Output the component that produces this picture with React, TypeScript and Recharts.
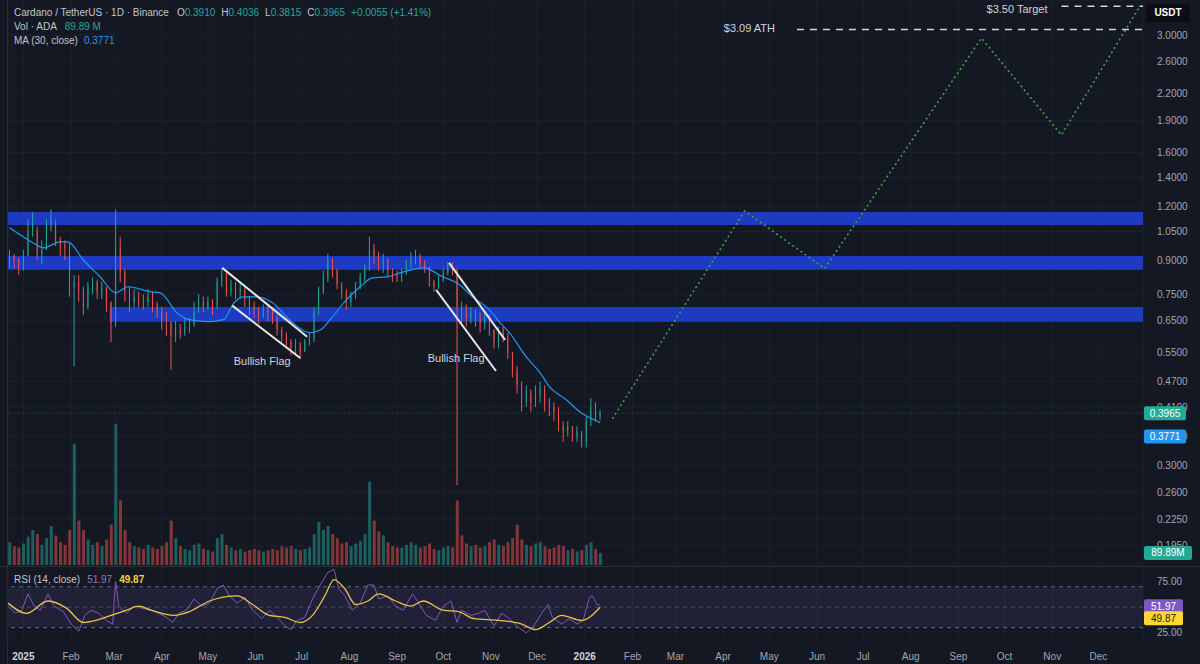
import React from 'react';
import {
  ComposedChart,
  Bar,
  Line,
  XAxis,
  YAxis,
  CartesianGrid,
  ReferenceArea,
  ReferenceLine,
  ReferenceDot,
  Cell,
} from 'recharts';

// ---- data (3-day candles, t = days since 1 Jan 2025) ----
const FIRST_DAY = -9;
const STEP = 3;
const FIRST_OPEN = 0.88;

const closes = [
  0.92, 0.9, 0.86, 0.92, 1.05, 1.08, 0.93, 0.95, 1.08, 1.12, 1.0, 0.97, 0.96, 0.78, 0.8, 0.76, 0.7, 0.78, 0.8, 0.76,
  0.78, 0.72, 0.64, 0.95, 0.84, 0.76, 0.72, 0.74, 0.73, 0.72, 0.74, 0.71, 0.68, 0.65, 0.64, 0.6, 0.62, 0.61, 0.63, 0.64,
  0.68, 0.72, 0.7, 0.72, 0.69, 0.8, 0.83, 0.76, 0.78, 0.76, 0.77, 0.73, 0.7, 0.69, 0.67, 0.69, 0.68, 0.66, 0.62, 0.6,
  0.58, 0.56, 0.57, 0.55, 0.58, 0.59, 0.68, 0.76, 0.82, 0.9, 0.85, 0.79, 0.76, 0.72, 0.74, 0.78, 0.82, 0.86, 0.95, 0.92,
  0.88, 0.9, 0.85, 0.83, 0.82, 0.84, 0.88, 0.9, 0.92, 0.89, 0.86, 0.8, 0.78, 0.81, 0.84, 0.87, 0.85, 0.7, 0.68, 0.66,
  0.68, 0.66, 0.64, 0.66, 0.62, 0.58, 0.62, 0.6, 0.55, 0.5, 0.46, 0.42, 0.44, 0.42, 0.44, 0.45, 0.42, 0.41, 0.4, 0.37,
  0.36, 0.37, 0.35, 0.36, 0.34, 0.38, 0.41, 0.391, 0.3965,
];
const highs = [
  0.95, 0.93, 0.91, 0.95, 1.12, 1.16, 1.06, 1.0, 1.12, 1.18, 1.1, 1.02, 1.0, 0.99, 0.83, 0.83, 0.78, 0.8, 0.82, 0.81,
  0.8, 0.78, 0.72, 1.18, 1.02, 0.86, 0.78, 0.77, 0.76, 0.75, 0.77, 0.76, 0.72, 0.7, 0.68, 0.65, 0.65, 0.64, 0.66, 0.66,
  0.72, 0.75, 0.74, 0.74, 0.73, 0.82, 0.86, 0.84, 0.81, 0.8, 0.8, 0.78, 0.74, 0.72, 0.7, 0.71, 0.71, 0.7, 0.67, 0.63,
  0.61, 0.59, 0.59, 0.58, 0.59, 0.61, 0.7, 0.78, 0.85, 0.93, 0.91, 0.86, 0.8, 0.77, 0.76, 0.8, 0.84, 0.88, 1.02, 0.98,
  0.94, 0.93, 0.91, 0.86, 0.85, 0.86, 0.9, 0.94, 0.95, 0.93, 0.9, 0.87, 0.81, 0.83, 0.86, 0.89, 0.89, 0.86, 0.72, 0.71,
  0.7, 0.69, 0.68, 0.68, 0.67, 0.62, 0.63, 0.63, 0.61, 0.55, 0.51, 0.47, 0.46, 0.45, 0.46, 0.47, 0.46, 0.43, 0.42, 0.41,
  0.38, 0.38, 0.37, 0.37, 0.36, 0.39, 0.43, 0.42, 0.4036,
];
const lows = [
  0.86, 0.86, 0.83, 0.85, 0.92, 1.02, 0.9, 0.88, 0.95, 1.05, 0.97, 0.92, 0.9, 0.74, 0.51, 0.72, 0.67, 0.69, 0.75, 0.73,
  0.73, 0.68, 0.58, 0.63, 0.8, 0.72, 0.68, 0.7, 0.7, 0.69, 0.7, 0.68, 0.66, 0.62, 0.6, 0.5, 0.58, 0.59, 0.6, 0.61,
  0.63, 0.68, 0.68, 0.69, 0.67, 0.7, 0.78, 0.74, 0.74, 0.73, 0.73, 0.7, 0.67, 0.66, 0.64, 0.66, 0.65, 0.64, 0.6, 0.58,
  0.56, 0.54, 0.54, 0.53, 0.55, 0.57, 0.58, 0.67, 0.75, 0.8, 0.82, 0.77, 0.73, 0.69, 0.7, 0.73, 0.77, 0.8, 0.85, 0.88,
  0.85, 0.84, 0.82, 0.8, 0.8, 0.8, 0.83, 0.86, 0.88, 0.86, 0.84, 0.78, 0.76, 0.77, 0.8, 0.83, 0.83, 0.27, 0.64, 0.63,
  0.64, 0.63, 0.61, 0.62, 0.6, 0.56, 0.56, 0.58, 0.53, 0.48, 0.44, 0.4, 0.41, 0.4, 0.41, 0.42, 0.4, 0.39, 0.38, 0.36,
  0.34, 0.35, 0.34, 0.34, 0.33, 0.33, 0.37, 0.38, 0.3815,
];
// volume, millions ADA
const volumes = [
  170, 140, 130, 160, 210, 260, 230, 150, 200, 290, 220, 170, 150, 260, 900, 330, 260, 190, 150, 170,
  140, 190, 300, 1050, 480, 260, 170, 140, 130, 120, 150, 130, 120, 140, 170, 330, 200, 140, 120, 110,
  150, 160, 120, 110, 100, 200, 230, 150, 130, 110, 120, 100, 110, 120, 110, 100, 110, 120, 110, 140,
  130, 140, 120, 110, 120, 130, 230, 320, 260, 290, 230, 200, 160, 170, 140, 160, 180, 230, 620, 330,
  250, 220, 170, 140, 130, 130, 150, 170, 150, 130, 140, 160, 120, 110, 130, 140, 130, 480, 220, 160,
  140, 150, 130, 140, 170, 190, 150, 140, 170, 200, 300, 190, 150, 140, 160, 170, 140, 120, 130, 150,
  140, 110, 120, 100, 110, 150, 170, 120, 89.89,
];

// MA (30, close)
const maDays = [-9, 6.5, 13, 24, 29, 39, 50, 60, 68, 83, 89, 100, 108, 121, 130, 137, 143, 152, 162, 173, 186, 193, 201, 210, 219, 227, 236, 245, 252, 260, 273, 282, 292, 303, 310, 316, 327, 336, 342, 353, 362, 375];
const maValues = [1.069, 0.986, 0.96, 0.992, 0.992, 0.9, 0.822, 0.755, 0.78, 0.759, 0.755, 0.678, 0.654, 0.647, 0.654, 0.716, 0.739, 0.739, 0.716, 0.654, 0.61, 0.619, 0.664, 0.727, 0.78, 0.818, 0.822, 0.84, 0.854, 0.863, 0.822, 0.796, 0.739, 0.689, 0.643, 0.61, 0.536, 0.492, 0.457, 0.426, 0.399, 0.3771];

// projected path (dotted green)
const projDays = [383, 469, 521, 623, 675, 726];
const projValues = [0.385, 1.17, 0.86, 2.95, 1.757, 3.5];

// RSI (14) and its moving average
const rsiDays = [-10, -5, -1, 3, 7, 11, 16, 20, 26, 31, 36, 40, 44, 49, 54, 58, 60, 62, 67, 72, 77, 83, 88, 93, 97, 101, 106, 111, 116, 121, 126, 130, 134, 139, 144, 149, 155, 160, 165, 170, 174, 178, 183, 188, 193, 198, 202, 205, 209, 214, 219, 224, 228, 231, 237, 242, 247, 253, 257, 262, 268, 273, 278, 282, 285, 291, 296, 300, 306, 311, 316, 322, 327, 332, 337, 341, 344, 350, 355, 360, 364, 368, 370, 373, 375];
const rsiValues = [50.9, 44, 47, 63, 51, 47, 63, 51, 45.6, 33.5, 26.5, 42, 47, 44, 37, 33.5, 75, 51, 44, 51, 49, 47, 44, 40, 35, 44, 47, 58, 51, 54, 68, 71.7, 61, 54, 59.6, 47, 38.7, 47, 40, 31.7, 28, 37, 40, 58, 71.7, 84, 87, 68, 61, 47, 54, 71.7, 71.7, 58, 61, 51, 47, 63, 54, 42, 37, 51, 56, 35, 47, 42, 44, 47, 31.7, 44, 38.7, 30, 24.8, 31.7, 44, 52.6, 40, 33.5, 38.7, 33.5, 37, 59.6, 61, 52.6, 51.97];
const rsiMaDays = [-10, 2, 16, 28, 39, 47, 57, 67, 75, 83, 98, 108, 121, 139, 149, 160, 170, 180, 188, 196, 202, 209, 216, 224, 231, 242, 252, 260, 273, 283, 293, 309, 324, 333, 342, 350, 363, 375];
const rsiMaValues = [54, 44, 56, 49, 35, 37, 42, 47, 51, 47, 42, 45.6, 56, 61, 52.6, 42, 40, 35, 42, 61, 77, 68, 52.6, 56, 63, 56, 51, 56, 47, 45.6, 38.7, 37, 33.5, 28, 35, 42, 37, 49.87];

// support / resistance zones
const zoneStarts = [-10, -10, 56];
const zoneLows = [1.086, 0.854, 0.647];
const zoneHighs = [1.164, 0.92, 0.7];

// bullish flag channels [startDay, startPrice, endDay, endPrice]
const flagLines = [
  [129.3, 0.863, 184.5, 0.597],
  [135.8, 0.705, 180, 0.533],
  [276.8, 0.886, 313.2, 0.587],
  [268.4, 0.767, 307.3, 0.497],
];
const flagLabelDays = [155.3, 281.4];
const flagLabelPrices = [0.525, 0.533];

const ATH = 3.09;
const TARGET = 3.5;
const athStart = 503;
const targetStart = 675;

const LAST_CLOSE = 0.3965;
const LAST_MA = 0.3771;
const LAST_VOL = 89.89;
const LAST_RSI = 51.97;
const LAST_RSI_MA = 49.87;

const priceTicks = [0.195, 0.225, 0.26, 0.3, 0.35, 0.41, 0.47, 0.55, 0.65, 0.75, 0.9, 1.05, 1.2, 1.4, 1.6, 1.9, 2.2, 2.6, 3.0];
const monthTicks = [0, 31, 59, 90, 120, 151, 181, 212, 243, 273, 304, 334, 365, 396, 424, 455, 485, 516, 546, 577, 608, 638, 669, 699];
const monthLabels = ['2025', 'Feb', 'Mar', 'Apr', 'May', 'Jun', 'Jul', 'Aug', 'Sep', 'Oct', 'Nov', 'Dec', '2026', 'Feb', 'Mar', 'Apr', 'May', 'Jun', 'Jul', 'Aug', 'Sep', 'Oct', 'Nov', 'Dec'];

// ---- styling ----
const BG = '#141823';
const GRID = '#1d212c';
const UP = '#26a69a';
const DOWN = '#ef5350';
const AXIS_TEXT = '#a3a6af';
const FONT = "'Liberation Sans', Arial, sans-serif";
const X_DOMAIN: [number, number] = [-10, 728];
const P_DOMAIN: [number, number] = [0.176, 3.618];
const RSI_DOMAIN: [number, number] = [15.9, 88.3];

const candles = closes.map((close, i) => {
  const open = i === 0 ? FIRST_OPEN : closes[i - 1];
  return {
    t: FIRST_DAY + i * STEP,
    open,
    close,
    high: highs[i],
    low: lows[i],
    range: [lows[i], highs[i]],
    vol: volumes[i],
  };
});
const maData = maDays.map((t, i) => ({ t, v: maValues[i] }));
const projData = projDays.map((t, i) => ({ t, v: projValues[i] }));
const rsiData = rsiDays.map((t, i) => ({ t, v: rsiValues[i] }));
const rsiMaData = rsiMaDays.map((t, i) => ({ t, v: rsiMaValues[i] }));

function Candle(props: any) {
  const { x, y, width, height, payload } = props;
  if (!payload || !isFinite(y) || !isFinite(height)) return null;
  const { open, close, high, low } = payload;
  const color = close >= open ? UP : DOWN;
  const span = Math.log(high) - Math.log(low) || 1;
  const toY = (v: number) => y + (height * (Math.log(high) - Math.log(v))) / span;
  const top = toY(Math.max(open, close));
  const bottom = toY(Math.min(open, close));
  const cx = x + width / 2;
  return (
    <g>
      <line x1={cx} x2={cx} y1={y} y2={y + height} stroke={color} strokeWidth={1} />
      <rect x={x} y={top} width={width} height={Math.max(1, bottom - top)} fill={color} />
    </g>
  );
}

const badge = (text: string, bg: string, fg: string, w: number, dy = 0) => (props: any) => {
  const vb = props.viewBox || {};
  const x = vb.x + vb.width + 1;
  const y = vb.y + dy;
  return (
    <g>
      <rect x={x} y={y - 7} width={w} height={14} rx={2} fill={bg} />
      <text x={x + w / 2} y={y} dy="0.35em" textAnchor="middle" fill={fg} fontSize={10} fontFamily={FONT}>
        {text}
      </text>
    </g>
  );
};

function MonthTick(props: any) {
  const { x, y, payload } = props;
  const idx = monthTicks.indexOf(payload.value);
  const label = monthLabels[idx] ?? '';
  const isYear = /^\d{4}$/.test(label);
  return (
    <text x={x} y={y + 10} textAnchor="middle" fill={isYear ? '#d1d4dc' : AXIS_TEXT} fontSize={10} fontWeight={isYear ? 700 : 400} fontFamily={FONT}>
      {label}
    </text>
  );
}

const grey = { color: '#c3c6ce' };
const green = { color: UP };

export default function App() {
  return (
    <div style={{ position: 'relative', width: 1200, height: 664, background: BG, overflow: 'hidden', fontFamily: FONT }}>
      <style>{'body{margin:0;background:' + BG + '}'}</style>

      {/* price pane */}
      <div style={{ position: 'absolute', left: 0, top: 0 }}>
        <ComposedChart width={1200} height={565} data={candles} margin={{ top: 0, right: 0, left: 8, bottom: 0 }}>
          <CartesianGrid stroke={GRID} />
          <XAxis dataKey="t" type="number" domain={X_DOMAIN} ticks={monthTicks} allowDataOverflow hide />
          <YAxis
            orientation="right"
            scale="log"
            domain={P_DOMAIN}
            ticks={priceTicks}
            allowDataOverflow
            width={57}
            axisLine={false}
            tickLine={false}
            tickMargin={8}
            tick={{ fill: AXIS_TEXT, fontSize: 10 }}
            tickFormatter={(v: number) => v.toFixed(4)}
          />
          <Bar dataKey="range" barSize={3} shape={Candle} isAnimationActive={false} />
          {zoneLows.map((lo, i) => (
            <ReferenceArea key={'z' + i} x1={zoneStarts[i]} x2={X_DOMAIN[1]} y1={lo} y2={zoneHighs[i]} fill="#1e40d8" fillOpacity={0.88} stroke="none" />
          ))}
          <Line data={maData} dataKey="v" type="monotone" stroke="#2196f3" strokeWidth={1.2} dot={false} isAnimationActive={false} />
          <Line data={projData} dataKey="v" type="linear" stroke="#43a047" strokeWidth={1.6} strokeDasharray="2 3" dot={false} isAnimationActive={false} />
          {flagLines.map((f, i) => (
            <ReferenceLine key={'f' + i} segment={[{ x: f[0], y: f[1] }, { x: f[2], y: f[3] }]} stroke="#e6e6e6" strokeWidth={2} />
          ))}
          {flagLabelDays.map((t, i) => (
            <ReferenceDot key={'fl' + i} x={t} y={flagLabelPrices[i]} r={0} stroke="none" fill="none"
              label={{ value: 'Bullish Flag', position: 'center', fill: '#d1d4dc', fontSize: 11 }} />
          ))}
          <ReferenceLine segment={[{ x: athStart, y: ATH }, { x: X_DOMAIN[1], y: ATH }]} stroke="#d1d4dc" strokeWidth={1.5} strokeDasharray="7 6" />
          <ReferenceLine segment={[{ x: targetStart, y: TARGET }, { x: X_DOMAIN[1], y: TARGET }]} stroke="#d1d4dc" strokeWidth={1.5} strokeDasharray="7 6" />
          <ReferenceDot x={athStart} y={ATH} r={0} stroke="none" fill="none"
            label={{ value: '$3.09 ATH', position: 'left', offset: 22, fill: '#d1d4dc', fontSize: 11, dy: -1 }} />
          <ReferenceDot x={targetStart} y={TARGET} r={0} stroke="none" fill="none"
            label={{ value: '$3.50 Target', position: 'left', offset: 14, fill: '#d1d4dc', fontSize: 11, dy: 3 }} />
          <ReferenceLine y={LAST_CLOSE} stroke={UP} strokeOpacity={0.4} strokeDasharray="1 2" />
        </ComposedChart>
      </div>

      {/* volume overlay + last-value badges on the price scale */}
      <div style={{ position: 'absolute', left: 0, top: 0 }}>
        <ComposedChart width={1200} height={565} data={candles} margin={{ top: 0, right: 57, left: 8, bottom: 0 }}>
          <XAxis dataKey="t" type="number" domain={X_DOMAIN} allowDataOverflow hide />
          <YAxis yAxisId="vol" domain={[0, 4200]} allowDataOverflow hide />
          <YAxis yAxisId="price" scale="log" domain={P_DOMAIN} allowDataOverflow hide />
          <Bar yAxisId="vol" dataKey="vol" barSize={3} isAnimationActive={false}>
            {candles.map((c, i) => (
              <Cell key={i} fill={c.close >= c.open ? 'rgba(38,166,154,0.5)' : 'rgba(239,83,80,0.5)'} />
            ))}
          </Bar>
          <ReferenceLine yAxisId="vol" y={LAST_VOL} stroke="none" label={badge('89.89M', '#22ab94', '#ffffff', 48)} />
          <ReferenceLine yAxisId="price" y={LAST_CLOSE} stroke="none" label={badge('0.3965', '#22ab94', '#ffffff', 42)} />
          <ReferenceLine yAxisId="price" y={LAST_MA} stroke="none" label={badge('0.3771', '#2196f3', '#ffffff', 42, 14)} />
        </ComposedChart>
      </div>

      {/* pane separators */}
      <div style={{ position: 'absolute', left: 0, top: 566, width: 1200, height: 1, background: '#2a2e39' }} />
      <div style={{ position: 'absolute', left: 7, top: 0, width: 1, height: 664, background: '#2a2e39' }} />

      {/* RSI pane */}
      <div style={{ position: 'absolute', left: 0, top: 568 }}>
        <ComposedChart width={1200} height={96} margin={{ top: 0, right: 0, left: 8, bottom: 0 }}>
          <CartesianGrid stroke={GRID} horizontal={false} />
          <XAxis
            dataKey="t"
            type="number"
            domain={X_DOMAIN}
            ticks={monthTicks}
            allowDataOverflow
            axisLine={false}
            tickLine={false}
            height={22}
            tick={MonthTick}
            interval={0}
          />
          <YAxis
            orientation="right"
            domain={RSI_DOMAIN}
            ticks={[25, 75]}
            allowDataOverflow
            width={57}
            axisLine={false}
            tickLine={false}
            tickMargin={8}
            tick={{ fill: AXIS_TEXT, fontSize: 10 }}
            tickFormatter={(v: number) => v.toFixed(2)}
          />
          <ReferenceArea y1={30} y2={70} fill="#7e57c2" fillOpacity={0.12} stroke="none" />
          <ReferenceLine y={70} stroke="#787b86" strokeDasharray="4 4" strokeOpacity={0.8} />
          <ReferenceLine y={50} stroke="#787b86" strokeDasharray="4 4" strokeOpacity={0.5} />
          <ReferenceLine y={30} stroke="#787b86" strokeDasharray="4 4" strokeOpacity={0.8} />
          <Line data={rsiData} dataKey="v" type="linear" stroke="#7e57c2" strokeWidth={1} dot={false} isAnimationActive={false} />
          <Line data={rsiMaData} dataKey="v" type="monotone" stroke="#e8c547" strokeWidth={1.3} dot={false} isAnimationActive={false} />
          <ReferenceLine y={LAST_RSI} stroke="none" label={badge('51.97', '#7e57c2', '#ffffff', 39, 1)} />
          <ReferenceLine y={LAST_RSI_MA} stroke="none" label={badge('49.87', '#fdd835', '#1a1a1a', 39, 11)} />
        </ComposedChart>
      </div>

      {/* legends */}
      <div style={{ position: 'absolute', left: 14, top: 6, fontSize: 10, lineHeight: '14px', whiteSpace: 'nowrap' }}>
        <div>
          <span style={grey}>Cardano / TetherUS · 1D · Binance</span>
          <span style={{ ...grey, marginLeft: 8 }}>O</span><span style={green}>0.3910</span>
          <span style={{ ...grey, marginLeft: 6 }}>H</span><span style={green}>0.4036</span>
          <span style={{ ...grey, marginLeft: 6 }}>L</span><span style={green}>0.3815</span>
          <span style={{ ...grey, marginLeft: 6 }}>C</span><span style={green}>0.3965</span>
          <span style={{ ...green, marginLeft: 6 }}>+0.0055 (+1.41%)</span>
        </div>
        <div>
          <span style={grey}>Vol · ADA</span>
          <span style={{ ...green, marginLeft: 8 }}>89.89 M</span>
        </div>
        <div>
          <span style={grey}>MA (30, close)</span>
          <span style={{ color: '#2196f3', marginLeft: 6 }}>0.3771</span>
        </div>
      </div>
      <div style={{ position: 'absolute', left: 14, top: 573, fontSize: 10, lineHeight: '14px', whiteSpace: 'nowrap' }}>
        <span style={grey}>RSI (14, close)</span>
        <span style={{ color: '#9575cd', marginLeft: 7 }}>51.97</span>
        <span style={{ color: '#f5d13f', marginLeft: 7, fontWeight: 700 }}>49.87</span>
      </div>

      {/* currency label */}
      <div style={{ position: 'absolute', left: 1146, top: 4, width: 44, height: 18, background: '#0b0d12', borderRadius: 3, color: '#ffffff', fontSize: 10, fontWeight: 700, lineHeight: '18px', textAlign: 'center' }}>
        USDT
      </div>
    </div>
  );
}
